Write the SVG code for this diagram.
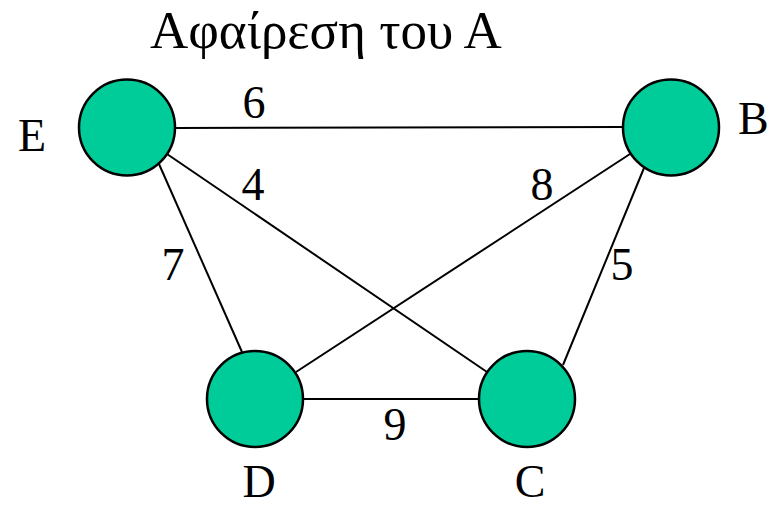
<svg xmlns="http://www.w3.org/2000/svg" width="775" height="508" viewBox="0 0 775 508">
<style>
.t{font-family:'Liberation Serif','DejaVu Serif',serif;fill:#000}
.lbl{font-size:46px}
.w{font-size:46px;text-anchor:middle}
.edge{stroke:#000;stroke-width:2;fill:none}
.node{fill:#00CC99;stroke:#000;stroke-width:2.5}
</style>
<rect width="775" height="508" fill="#fff"/>
<text id="title" class="t" x="150" y="48" style="font-size:53px">Αφαίρεση του Α</text>
<g id="connectors">
<line class="edge" x1="176" y1="128" x2="623" y2="127"/>
<line class="edge" x1="167" y1="154" x2="487" y2="372"/>
<line class="edge" x1="159" y1="164" x2="242" y2="352"/>
<line class="edge" x1="630" y1="154" x2="296" y2="372"/>
<line class="edge" x1="644" y1="168" x2="563" y2="365"/>
<line class="edge" x1="303" y1="399" x2="478" y2="399"/>
<text class="t w" x="254" y="118">6</text>
<text class="t w" x="253" y="200">4</text>
<text class="t w" x="542" y="200">8</text>
<text class="t w" x="622" y="280">5</text>
<text class="t w" x="173" y="280">7</text>
<text class="t w" x="395" y="440">9</text>
</g>
<g id="node-E"><circle class="node" cx="127" cy="127.5" r="48"/><text class="t lbl" x="18" y="151">E</text></g>
<g id="node-B"><circle class="node" cx="671" cy="127.5" r="48"/><text class="t lbl" x="738" y="134">B</text></g>
<g id="node-D"><circle class="node" cx="255" cy="399" r="48"/><text class="t w" x="259" y="497">D</text></g>
<g id="node-C"><circle class="node" cx="527" cy="399" r="48"/><text class="t w" x="530" y="497">C</text></g>
</svg>
